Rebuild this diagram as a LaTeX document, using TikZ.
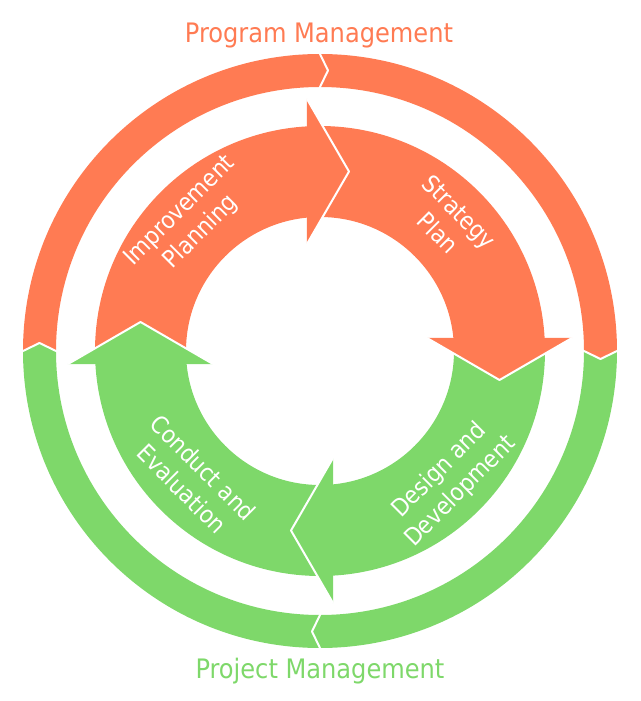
\documentclass[tikz,border=0pt]{standalone}
\usepackage{fontspec}
\setmainfont{DejaVu Sans Condensed}
\definecolor{orn}{RGB}{255,123,83}
\definecolor{grn}{RGB}{126,216,106}
\begin{document}
\begin{tikzpicture}[x=1pt,y=1pt,
  ringtext/.style={text=white, font=\fontsize{24}{30}\selectfont, align=center, inner sep=0pt},
  gapline/.style={draw=white, line width=2pt, line join=round},
  titletext/.style={font=\fontsize{26.8}{32}\selectfont, inner sep=0pt, anchor=base}]
\useasboundingbox (-320,-350) rectangle (320,351);
% outer ring
\fill[orn] (180:297) arc[start angle=180,end angle=0,radius=297] -- (0:264) arc[start angle=0,end angle=180,radius=264] -- cycle;
\fill[grn] (0:297) arc[start angle=0,end angle=-180,radius=297] -- (-180:264) arc[start angle=-180,end angle=0,radius=264] -- cycle;
\foreach \ang/\col in {90/orn, 0/orn, -90/grn, 180/grn} {
  \begin{scope}[rotate=\ang-90]
    \fill[\col] (0,297) -- (8,280.5) -- (0,264) -- cycle;
    \draw[gapline] (-1.3,299.7) -- (8,280.5) -- (-1.3,261.3);
  \end{scope}
}
% inner ring
\fill[orn] (180:225) arc[start angle=180,end angle=0,radius=225] -- (0:134) arc[start angle=0,end angle=180,radius=134] -- cycle;
\fill[grn] (0:225) arc[start angle=0,end angle=-180,radius=225] -- (-180:134) arc[start angle=-180,end angle=0,radius=134] -- cycle;
\foreach \ang/\col in {90/orn, 0/orn, -90/grn, 180/grn} {
  \begin{scope}[rotate=\ang-90]
    \fill[\col] (-13,252) -- (29,179.5) -- (-13,107) -- cycle;
    \draw[gapline] (-13,252) -- (29,179.5) -- (-13,107);
  \end{scope}
}
% labels
\node[ringtext, rotate=45] (ip) at (135:183) {Improvement\\Planning};
\node[ringtext, rotate=-45] (sp) at (45:182) {Strategy\\Plan};
\node[ringtext, rotate=45] (dd) at (-45:184) {Design and\\Development};
\node[ringtext, rotate=-45] (ce) at (-135:180) {Conduct and\\Evaluation};
\node[titletext, text=orn] (pm) at (-1,308) {Program Management};
\node[titletext, text=grn] (prj) at (0,-327) {Project Management};
\end{tikzpicture}
\end{document}
